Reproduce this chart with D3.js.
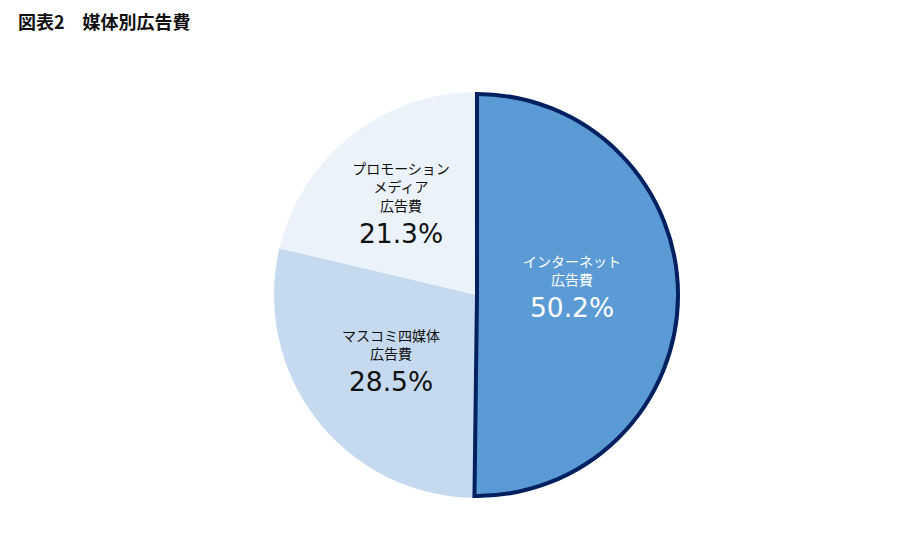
<!DOCTYPE html>
<html><head><meta charset="utf-8">
<script src="https://cdn.jsdelivr.net/npm/d3@7"></script>
<style>body{margin:0;background:#fff;} svg{display:block;}</style>
</head><body>
<svg id="c" width="911" height="548"></svg>
<script>
const title = "図表2　媒体別広告費";
const categories = [["インターネット","広告費"],["マスコミ四媒体","広告費"],["プロモーション","メディア","広告費"]];
const values = [50.2, 28.5, 21.3];
const valueLabels = ["50.2%","28.5%","21.3%"];

const colors = ["#5B9BD5","#C5DAEF","#EBF2FA"];
const textColors = ["#ffffff","#111111","#111111"];
const labelShift = [[95,-9],[-86,65],[-76,-93]];
const font = "'Noto Sans CJK JP','Noto Sans',sans-serif";
const numFont = "'DejaVu Sans',sans-serif";

const svg = d3.select("#c");
svg.append("text").attr("x",18).attr("y",29).attr("font-family",font)
  .attr("font-weight","bold").attr("font-size",18).attr("fill","#111").text(title);

const cx = 477, cy = 295, R = 203;
const g = svg.append("g").attr("transform",`translate(${cx},${cy})`);
const pie = d3.pie().sort(null).value(d=>d)(values);
const arc = d3.arc().innerRadius(0).outerRadius(R);
const arcIn = d3.arc().innerRadius(0).outerRadius(R-2);

g.selectAll("path.s").data(pie).enter().append("path")
  .attr("class","s")
  .attr("d",(d,i)=> i===0 ? arcIn(d) : arc(d))
  .attr("fill",(d,i)=>colors[i])
  .attr("stroke",(d,i)=> i===0 ? "#002060" : "none")
  .attr("stroke-width",(d,i)=> i===0 ? 4 : 0)
  .attr("stroke-linejoin","miter");
g.selectAll("path.s").filter((d,i)=>i===0).raise();

pie.forEach((d,i)=>{
  const x = labelShift[i][0], y = labelShift[i][1];
  const lines = categories[i];
  const lh = 18.5, gap = 32;
  const blockH = (lines.length-1)*lh + gap + 12;
  let b0 = y - blockH/2 + 12;
  const t = g.append("g").attr("fill",textColors[i]).attr("font-family",font).attr("text-anchor","middle");
  lines.forEach((l,k)=>{
    t.append("text").attr("x",x).attr("y",b0 + k*lh).attr("font-size",14).text(l);
  });
  t.append("text").attr("x",x).attr("y",b0 + (lines.length-1)*lh + gap)
    .attr("font-family",numFont).attr("font-size",26.5).text(valueLabels[i]);
});
</script>
</body></html>
